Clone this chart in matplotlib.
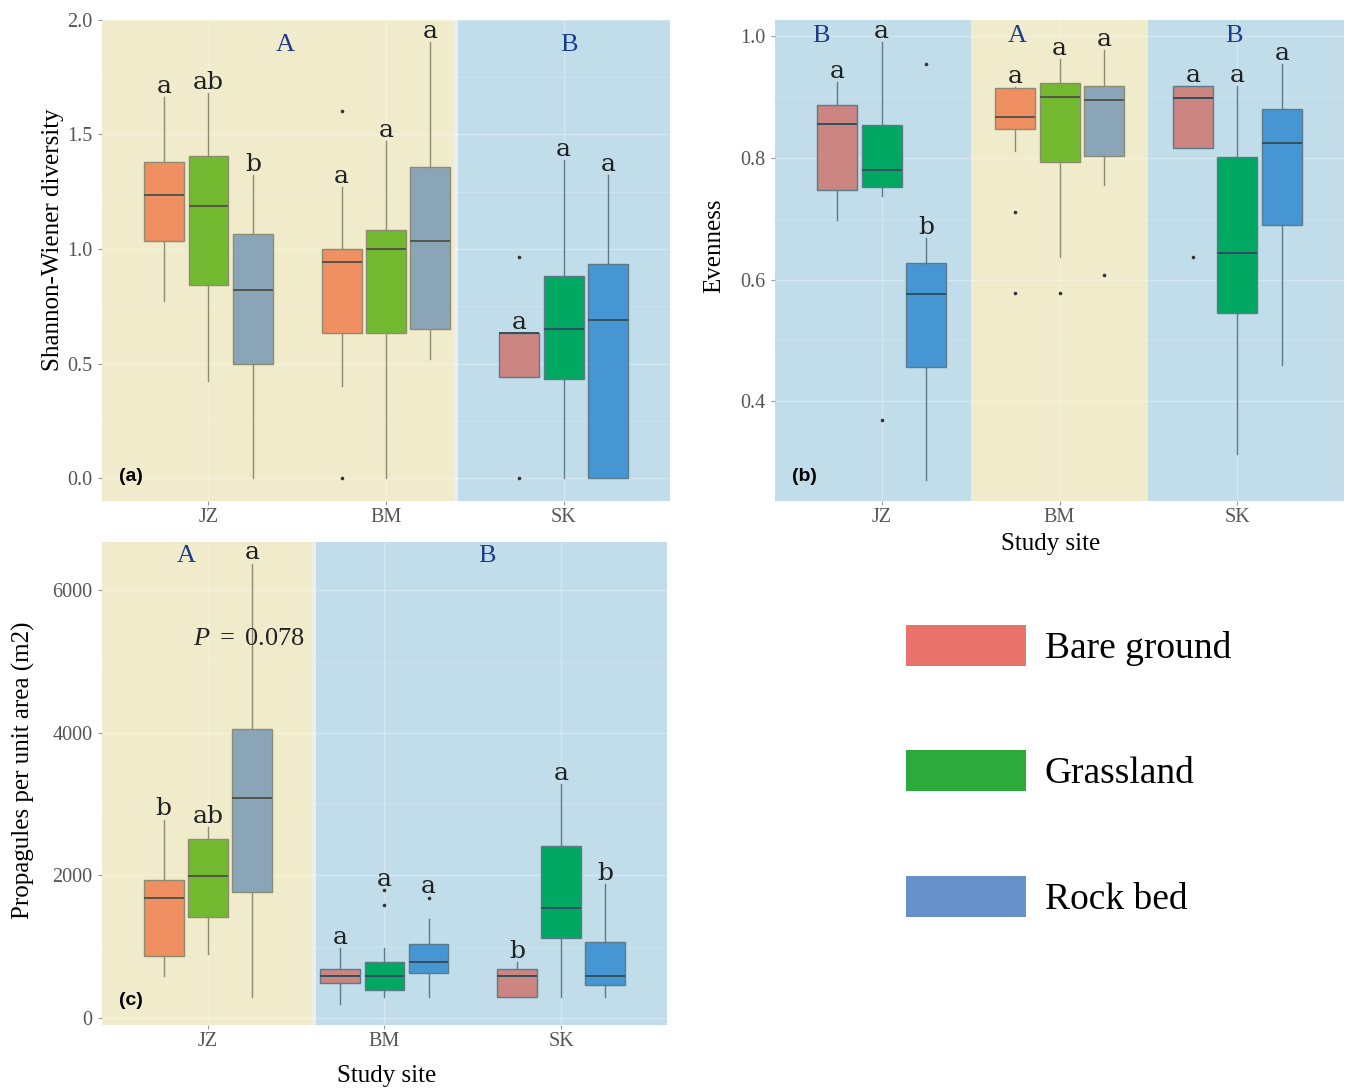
import matplotlib.pyplot as plt
import matplotlib.transforms as mtransforms
from matplotlib.patches import Patch

plt.rcParams['font.family'] = ['Liberation Serif', 'DejaVu Serif']
plt.rcParams['mathtext.fontset'] = 'custom'
plt.rcParams['mathtext.rm'] = 'Liberation Serif'
plt.rcParams['mathtext.it'] = 'Liberation Serif:italic'

sites = ['JZ', 'BM', 'SK']
habitats = ['Bare ground', 'Grassland', 'Rock bed']
legend_colors = ['#E9736A', '#2DAA3C', '#6891CB']

# box fills as seen through the yellow (A) and blue (B) site bands
fill_A = ['#EF8F62', '#72B92F', '#8BA5B8']
fill_B = ['#CC8682', '#00A862', '#4596D2']
band_colors = {'A': '#F0EBCB', 'B': '#C2DDEA'}
edge_colors = {'A': '#8C8C72', 'B': '#5B7A8A'}
median_colors = {'A': '#55554A', 'B': '#32505E'}

# each box: [low whisker, Q1, median, Q3, high whisker], rows = habitats
# (a) Shannon-Wiener diversity
shannon_JZ = [[0.774, 1.034, 1.234, 1.382, 1.664],
              [0.423, 0.844, 1.187, 1.406, 1.682],
              [0.0, 0.496, 0.822, 1.066, 1.321]]
shannon_BM = [[0.401, 0.632, 0.942, 1.000, 1.270],
              [0.0, 0.632, 1.001, 1.082, 1.470],
              [0.521, 0.650, 1.034, 1.358, 1.902]]
shannon_SK = [[0.441, 0.441, 0.632, 0.632, 0.632],
              [0.0, 0.434, 0.650, 0.883, 1.390],
              [0.0, 0.0, 0.691, 0.934, 1.321]]
shannon_out = [[[], [], []], [[1.603, 0.0], [], []], [[0.964, 0.0], [], []]]
shannon_letters = [['a', 'ab', 'b'], ['a', 'a', 'a'], ['a', 'a', 'a']]

# (b) Evenness
even_JZ = [[0.698, 0.747, 0.856, 0.887, 0.925],
           [0.737, 0.752, 0.781, 0.855, 0.991],
           [0.271, 0.456, 0.576, 0.628, 0.668]]
even_BM = [[0.811, 0.847, 0.868, 0.915, 0.917],
           [0.638, 0.794, 0.901, 0.924, 0.962],
           [0.756, 0.803, 0.895, 0.918, 0.977]]
even_SK = [[0.817, 0.817, 0.898, 0.918, 0.918],
           [0.313, 0.545, 0.643, 0.802, 0.918],
           [0.459, 0.690, 0.824, 0.881, 0.955]]
even_out = [[[], [0.369], [0.954]], [[0.711, 0.578], [0.578], [0.607]], [[0.638], [], []]]
even_letters = [['a', 'a', 'b'], ['a', 'a', 'a'], ['a', 'a', 'a']]

# (c) Propagules per unit area
prop_JZ = [[595, 867, 1689, 1941, 2783],
           [892, 1412, 1987, 2511, 2682],
           [292, 1765, 3086, 4059, 6378]]
prop_BM = [[192, 494, 590, 686, 983],
           [292, 393, 590, 787, 983],
           [292, 635, 787, 1034, 1387]]
prop_SK = [[292, 292, 590, 686, 787],
           [292, 1119, 1538, 2410, 3277],
           [292, 469, 590, 1059, 1876]]
prop_out = [[[], [], []], [[], [1790, 1588], [1689]], [[], [], []]]
prop_letters = [['b', 'ab', 'a'], ['a', 'a', 'a'], ['b', 'a', 'b']]

offsets = [-0.25, 0.0, 0.25]


def band_at(x, bands):
    for lo, hi, name, _ in bands:
        if lo <= x <= hi:
            return name
    return bands[-1][2]


def draw_panel(ax, summaries, fliers, letters, bands, ylim, yticks, ytick_labels,
               band_label_y, tag, letters_over_fliers=False):
    ax.set_facecolor('#EDEDEA')
    band_tf = mtransforms.blended_transform_factory(ax.transData, ax.transAxes)
    for lo, hi, name, lx in bands:
        ax.axvspan(lo, hi, color=band_colors[name], zorder=0, lw=0)
        ax.text(lx, band_label_y, name, transform=band_tf, ha='center', va='center',
                fontsize=19, color='#1C3A8E', zorder=5)

    for i, site_boxes in enumerate(summaries):
        region = band_at(i + 1, bands)
        fills = fill_A if region == 'A' else fill_B
        for j, (lo, q1, med, q3, hi) in enumerate(site_boxes):
            pos = i + 1 + offsets[j]
            stats = [dict(whislo=lo, q1=q1, med=med, q3=q3, whishi=hi, fliers=fliers[i][j])]
            ax.bxp(stats, positions=[pos], widths=0.225, patch_artist=True, showcaps=False,
                   manage_ticks=False, zorder=3,
                   boxprops=dict(facecolor=fills[j], edgecolor=edge_colors[region], linewidth=1.0),
                   whiskerprops=dict(color=edge_colors[region], linewidth=1.0),
                   medianprops=dict(color=median_colors[region], linewidth=1.4),
                   flierprops=dict(marker='o', markersize=2.6, markerfacecolor='#333333',
                                   markeredgecolor='none'))
            top = hi
            if letters_over_fliers and fliers[i][j]:
                top = max(hi, max(fliers[i][j]))
            ax.annotate(letters[i][j], (pos, top), xytext=(0, 3), textcoords='offset points',
                        ha='center', va='baseline', fontsize=18, family='DejaVu Serif',
                        color='#1E2222', annotation_clip=False, zorder=5)

    ax.set_xlim(0.4, 3.6)
    ax.set_ylim(*ylim)
    ax.set_xticks([1, 2, 3])
    ax.set_xticklabels(sites)
    ax.set_yticks(yticks)
    ax.set_yticklabels(ytick_labels)
    minor = [(a + b) / 2 for a, b in zip(yticks[:-1], yticks[1:])]
    ax.set_yticks(minor, minor=True)
    ax.tick_params(axis='y', which='minor', length=0)
    ax.tick_params(axis='both', which='major', length=3, color='#999999', labelcolor='#555555',
                   labelsize=14.5, pad=4)
    ax.tick_params(axis='x', which='major', pad=2)
    ax.grid(True, which='major', color='white', alpha=0.3, lw=1.0, zorder=1)
    ax.grid(True, which='minor', axis='y', color='white', alpha=0.2, lw=0.6, zorder=1)
    ax.set_axisbelow(True)
    for s in ax.spines.values():
        s.set_visible(False)
    ax.text(0.03, 0.05, tag, transform=ax.transAxes, ha='left', va='center',
            fontsize=14, fontweight='bold', family='Liberation Sans', zorder=6)


fig = plt.figure(figsize=(13.49, 10.9), dpi=100)

ax_a = fig.add_axes([0.0756, 0.5404, 0.4211, 0.4413])
draw_panel(ax_a, [shannon_JZ, shannon_BM, shannon_SK], shannon_out, shannon_letters,
           [(0.4, 2.385, 'A', 1.43), (2.405, 3.6, 'B', 3.03)],
           (-0.1, 2.0), [0.0, 0.5, 1.0, 1.5, 2.0], ['0.0', '0.5', '1.0', '1.5', '2.0'],
           0.948, '(a)')
ax_a.set_ylabel('Shannon-Wiener diversity', fontsize=18)
ax_a.yaxis.set_label_coords(-0.067, 0.543)

ax_b = fig.add_axes([0.5745, 0.5404, 0.4218, 0.4413])
draw_panel(ax_b, [even_JZ, even_BM, even_SK], even_out, even_letters,
           [(0.4, 1.5, 'B', 0.66), (1.5, 2.5, 'A', 1.76), (2.5, 3.6, 'B', 2.98)],
           (0.236, 1.027), [0.4, 0.6, 0.8, 1.0], ['0.4', '0.6', '0.8', '1.0'],
           0.967, '(b)')
ax_b.set_ylabel('Evenness', fontsize=18)
ax_b.yaxis.set_label_coords(-0.088, 0.53)
ax_b.set_xlabel('Study site', fontsize=18)
ax_b.xaxis.set_label_coords(0.485, -0.066)

ax_c = fig.add_axes([0.0756, 0.0596, 0.4188, 0.4431])
draw_panel(ax_c, [prop_JZ, prop_BM, prop_SK], prop_out, prop_letters,
           [(0.4, 1.59, 'A', 0.88), (1.61, 3.6, 'B', 2.58)],
           (-100, 6680), [0, 2000, 4000, 6000], ['0', '2000', '4000', '6000'],
           0.972, '(c)', letters_over_fliers=True)
ax_c.set_ylabel('Propagules per unit area (m2)', fontsize=18)
ax_c.yaxis.set_label_coords(-0.119, 0.528)
ax_c.set_xlabel('Study site', fontsize=18)
ax_c.xaxis.set_label_coords(0.503, -0.082)
ax_c.text(1.23, 5320, r'$P\ =\ 0.078$', ha='center', va='center', fontsize=19, color='#222222', zorder=6)

handles = [Patch(facecolor=c, edgecolor='none') for c in legend_colors]
fig.legend(handles, habitats, loc='upper left', bbox_to_anchor=(906 / 1349, 1 - 625 / 1090),
           frameon=False, fontsize=27, handlelength=3.2, handleheight=1.3,
           labelspacing=2.25, handletextpad=0.5, borderpad=0, borderaxespad=0)

fig.savefig('out.png', dpi=100)
